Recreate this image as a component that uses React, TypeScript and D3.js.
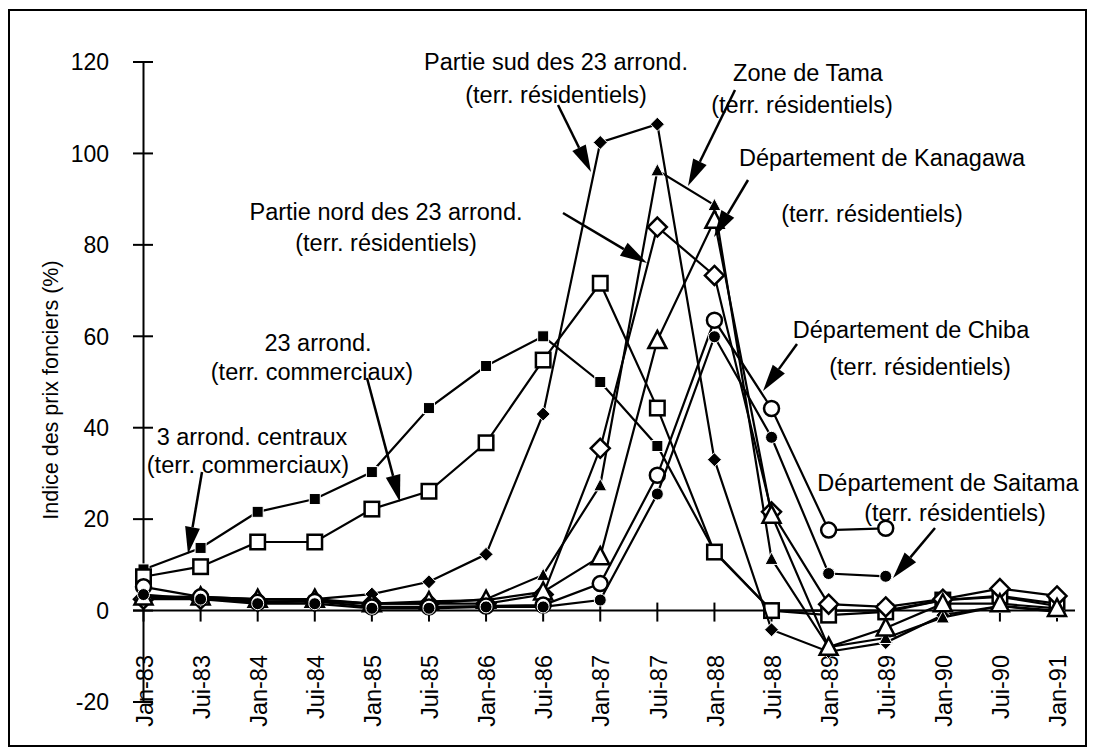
import { useEffect, useRef } from 'react';
import * as d3 from 'd3';

// ── Data ─────────────────────────────────────────────────────────────────────
const CATEGORIES = [
  'Jan-83', 'Jui-83', 'Jan-84', 'Jui-84', 'Jan-85', 'Jui-85', 'Jan-86', 'Jui-86',
  'Jan-87', 'Jui-87', 'Jan-88', 'Jui-88', 'Jan-89', 'Jui-89', 'Jan-90', 'Jui-90', 'Jan-91',
];
const Y_TICKS = [-20, 0, 20, 40, 60, 80, 100, 120];

type V = number | null;
const CENTRAUX: V[] = [9, 13.7, 21.6, 24.4, 30.3, 44.3, 53.5, 60, 50, 36, 13, 0, 0, 0, 2.3, 3, 1];
const ARROND23_COMM: V[] = [7.4, 9.6, 15, 15, 22.2, 26.1, 36.7, 54.8, 71.6, 44.3, 12.8, 0, -1, -0.3, 2.3, 3.2, 1.5];
const SUD: V[] = [3, 3, 2.5, 2.5, 3.6, 6.3, 12.3, 43, 102.4, 106.4, 33, -4.2, -9, -7, -1, 1, 0];
const TAMA: V[] = [3, 2.7, 2.5, 2.3, 1.5, 1.5, 2.5, 7.8, 27.4, 96.3, 88.7, 11.3, -8, -6, -1.5, 1, -0.3];
const NORD: V[] = [2.5, 2.5, 2, 2, 1.5, 1.5, 1.5, 3.5, 35.5, 83.9, 73.3, 21.6, 1.4, 0.8, 2.5, 4.8, 3.2];
const KANAGAWA: V[] = [3, 3, 2.5, 2.5, 1.5, 2, 2.3, 4.1, 11.8, 59.1, 85.4, 20.9, -8, -3.8, 1.5, 1.5, 0.5];
const CHIBA: V[] = [5.2, 3, 1.8, 2, 0.8, 0.8, 1, 1.2, 5.9, 29.6, 63.5, 44.2, 17.6, 18, null, null, null];
const SAITAMA: V[] = [3.5, 2.5, 1.5, 1.5, 0.5, 0.5, 0.8, 0.8, 2.3, 25.5, 59.9, 37.9, 8.1, 7.5, null, null, null];

const SERIES: { values: V[]; marker: string }[] = [
  { values: CENTRAUX, marker: 'sqFill' },
  { values: ARROND23_COMM, marker: 'sqOpen' },
  { values: SUD, marker: 'diaFill' },
  { values: TAMA, marker: 'triFill' },
  { values: NORD, marker: 'diaOpen' },
  { values: KANAGAWA, marker: 'triOpen' },
  { values: CHIBA, marker: 'cirOpen' },
  { values: SAITAMA, marker: 'cirFill' },
];

// annotation labels: text lines, centres, arrow from → to (pixels)
const NOTES = [
  { lines: ['Partie sud des 23 arrond.', '(terr. résidentiels)'], xs: [556, 556], ys: [62, 95], from: [558, 105], to: [591, 172] },
  { lines: ['Zone de Tama', '(terr. résidentiels)'], xs: [808, 802], ys: [73, 105], from: [735, 90], to: [688, 186] },
  { lines: ['Département de Kanagawa', '(terr. résidentiels)'], xs: [882, 872], ys: [158, 214], from: [748, 180], to: [714, 237] },
  { lines: ['Partie nord des 23 arrond.', '(terr. résidentiels)'], xs: [386, 386], ys: [212, 243], from: [563, 213], to: [647, 263] },
  { lines: ['23 arrond.', '(terr. commerciaux)'], xs: [318, 312], ys: [343, 372], from: [367, 378], to: [400, 502] },
  { lines: ['3 arrond. centraux', '(terr. commerciaux)'], xs: [252, 248], ys: [437, 465], from: [202, 472], to: [188, 554] },
  { lines: ['Département de Chiba', '(terr. résidentiels)'], xs: [911, 920], ys: [330, 367], from: [797, 344], to: [763, 391] },
  { lines: ['Département de Saitama', '(terr. résidentiels)'], xs: [948, 955], ys: [483, 513], from: [935, 528], to: [893, 578] },
];

const W = 1094, H = 751;
const FONT = '"Liberation Sans", Arial, Helvetica, sans-serif';

export default function App() {
  const svgRef = useRef<SVGSVGElement>(null);

  useEffect(() => {
    if (!svgRef.current) return;
    const svg = d3.select(svgRef.current);
    svg.selectAll('*').remove();

    const x = d3.scalePoint<string>().domain(CATEGORIES).range([143.5, 1057]);
    const y = d3.scaleLinear().domain([-20, 120]).range([702, 62]);

    // Frame
    svg.append('rect').attr('x', 9).attr('y', 10).attr('width', 1077).attr('height', 736)
      .attr('fill', 'white').attr('stroke', 'black').attr('stroke-width', 2);

    const g = svg.append('g');

    // Y axis
    g.append('line').attr('x1', x('Jan-83')!).attr('x2', x('Jan-83')!)
      .attr('y1', y(120)).attr('y2', y(-20)).attr('stroke', 'black').attr('stroke-width', 2);
    Y_TICKS.forEach(t => {
      g.append('line').attr('x1', 133).attr('x2', 153).attr('y1', y(t)).attr('y2', y(t))
        .attr('stroke', 'black').attr('stroke-width', 2);
      g.append('text').attr('x', 109).attr('y', y(t)).attr('dy', '0.36em')
        .attr('text-anchor', 'end').style('font-family', FONT).style('font-size', '23px').text(t);
    });
    g.append('text').attr('transform', `translate(50,390) rotate(-90)`)
      .attr('text-anchor', 'middle').attr('dy', '0.35em').style('font-family', FONT).style('font-size', '21.5px')
      .text('Indice des prix fonciers (%)');

    // X axis at 0
    g.append('line').attr('x1', 133).attr('x2', 1075).attr('y1', y(0)).attr('y2', y(0))
      .attr('stroke', 'black').attr('stroke-width', 2);
    CATEGORIES.forEach(c => {
      g.append('line').attr('x1', x(c)!).attr('x2', x(c)!).attr('y1', y(0) - 8).attr('y2', y(0) + 11)
        .attr('stroke', 'black').attr('stroke-width', 2);
      g.append('text').attr('transform', `translate(${x(c)! + 1},655) rotate(-90)`)
        .attr('dy', '0.35em').attr('text-anchor', 'end')
        .style('font-family', FONT).style('font-size', '23.5px').text(c);
    });

    // Series
    const line = d3.line<V>()
      .defined(d => d !== null)
      .x((_, i) => x(CATEGORIES[i])!)
      .y(d => y(d as number));

    const marker = (sel: d3.Selection<SVGGElement, unknown, null, undefined>, type: string, cx: number, cy: number) => {
      const open = type.endsWith('Open');
      const fill = open ? 'white' : 'black';
      const stroke = open ? 'black' : 'white';
      const sw = open ? 2.5 : 1;
      let s = 0;
      let el: any;
      if (type.startsWith('sq')) {
        s = open ? 14.5 : 11;
        el = sel.append('rect').attr('x', cx - s / 2).attr('y', cy - s / 2).attr('width', s).attr('height', s);
      } else if (type.startsWith('dia')) {
        s = open ? 9.5 : 7;
        el = sel.append('path').attr('d', `M${cx},${cy - s}L${cx + s},${cy}L${cx},${cy + s}L${cx - s},${cy}Z`);
      } else if (type.startsWith('tri')) {
        s = open ? 9 : 6.5;
        el = sel.append('path').attr('d', `M${cx},${cy - s * 1.05}L${cx + s},${cy + s * 0.85}L${cx - s},${cy + s * 0.85}Z`);
      } else {
        s = open ? 7.5 : 6;
        el = sel.append('circle').attr('cx', cx).attr('cy', cy).attr('r', s);
      }
      el.attr('fill', fill).attr('stroke', stroke).attr('stroke-width', sw);
    };

    SERIES.forEach(sr => {
      const sg = g.append('g');
      sg.append('path').attr('d', line(sr.values)!).attr('fill', 'none')
        .attr('stroke', 'black').attr('stroke-width', 2.2);
      sr.values.forEach((v, i) => {
        if (v === null) return;
        marker(sg, sr.marker, x(CATEGORIES[i])!, y(v));
      });
    });

    // Annotations with arrows
    const ag = svg.append('g');
    NOTES.forEach(n => {
      n.lines.forEach((t, i) => {
        ag.append('text').attr('x', n.xs[i]).attr('y', n.ys[i]).attr('dy', '0.35em')
          .attr('text-anchor', 'middle').style('font-family', FONT).style('font-size', '23.5px').text(t);
      });
      const [x1, y1] = n.from, [x2, y2] = n.to;
      const ang = Math.atan2(y2 - y1, x2 - x1);
      const hl = 27, hw = 7.5;
      const bx = x2 - hl * Math.cos(ang), by = y2 - hl * Math.sin(ang);
      ag.append('line').attr('x1', x1).attr('y1', y1).attr('x2', bx).attr('y2', by)
        .attr('stroke', 'black').attr('stroke-width', 2.5);
      const px = -Math.sin(ang) * hw, py = Math.cos(ang) * hw;
      ag.append('path')
        .attr('d', `M${x2},${y2}L${bx + px},${by + py}L${bx - px},${by - py}Z`)
        .attr('fill', 'black');
    });
  }, []);

  return (
    <svg ref={svgRef} width={W} height={H} viewBox={`0 0 ${W} ${H}`}
      style={{ position: 'absolute', left: 0, top: 0, display: 'block', background: 'white' }} />
  );
}
